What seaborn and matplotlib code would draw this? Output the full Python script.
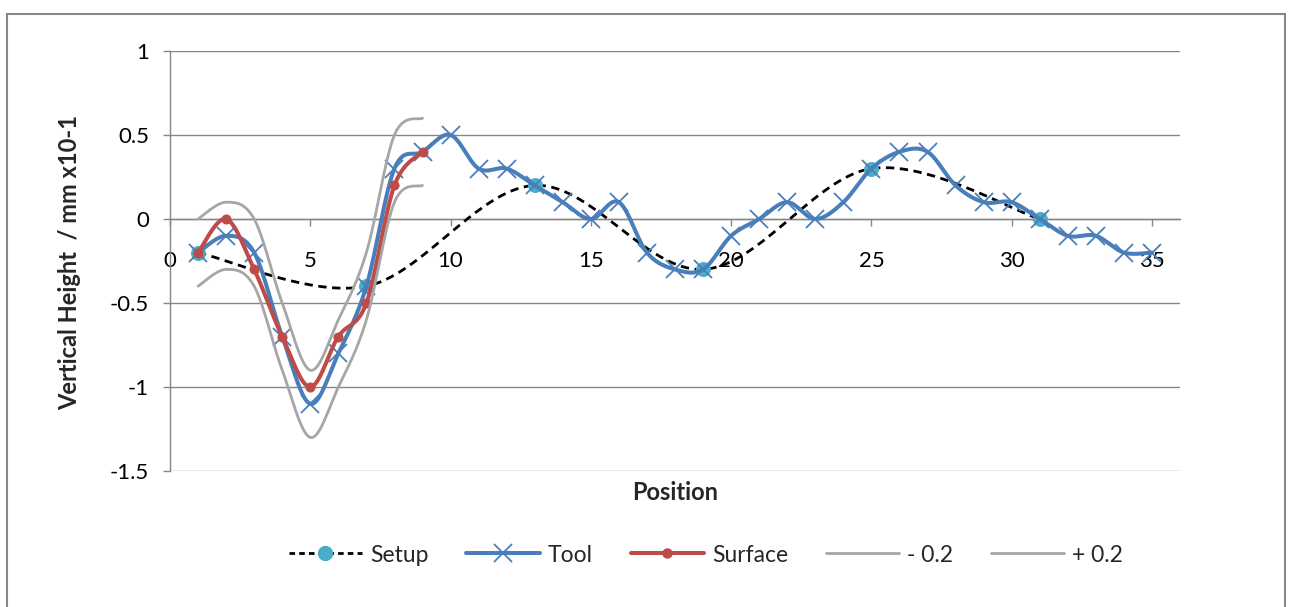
import numpy as np
import pandas as pd
import matplotlib
matplotlib.use("Agg")
import matplotlib.pyplot as plt
import seaborn as sns
from matplotlib.lines import Line2D
from matplotlib.patches import Rectangle

# ---- data ----
setup_x = [1, 7, 13, 19, 25, 31]
setup_y = [-0.2, -0.4, 0.2, -0.3, 0.3, 0.0]

tool_x = list(range(1, 36))
tool_y = [-0.2, -0.1, -0.2, -0.7, -1.1, -0.8, -0.4, 0.3, 0.4, 0.5,
          0.3, 0.3, 0.2, 0.1, 0.0, 0.1, -0.2, -0.3, -0.3, -0.1,
          0.0, 0.1, 0.0, 0.1, 0.3, 0.4, 0.4, 0.2, 0.1, 0.1,
          0.0, -0.1, -0.1, -0.2, -0.2]

surface_x = list(range(1, 10))
surface_y = [-0.2, 0.0, -0.3, -0.7, -1.0, -0.7, -0.5, 0.2, 0.4]

band_x = list(range(1, 10))
minus_y = [-0.4, -0.3, -0.4, -0.9, -1.3, -1.0, -0.6, 0.1, 0.2]
plus_y = [0.0, 0.1, 0.0, -0.5, -0.9, -0.6, -0.2, 0.5, 0.6]

x_ticks = [0, 5, 10, 15, 20, 25, 30, 35]
y_ticks = [-1.5, -1, -0.5, 0, 0.5, 1]
y_tick_labels = ["-1.5", "-1", "-0.5", "0", "0.5", "1"]

BLUE = "#4A7EBB"
RED = "#BE4B48"
CYAN = "#4BACC6"
GRAY = "#A6A6A6"
AXIS = "#868686"


def smooth(xs, ys, n=40):
    """Excel-style smoothed line (Catmull-Rom Bezier)."""
    P = np.column_stack([np.asarray(xs, float), np.asarray(ys, float)])
    E = np.vstack([P[0], P, P[-1]])
    segs = []
    for i in range(len(P) - 1):
        p0, p1, p2, p3 = E[i], E[i + 1], E[i + 2], E[i + 3]
        b1 = p1 + (p2 - p0) / 6.0
        b2 = p2 - (p3 - p1) / 6.0
        t = np.linspace(0, 1, n, endpoint=(i == len(P) - 2))[:, None]
        segs.append((1 - t) ** 3 * p1 + 3 * (1 - t) ** 2 * t * b1
                    + 3 * (1 - t) * t ** 2 * b2 + t ** 3 * p2)
    S = np.vstack(segs)
    return pd.DataFrame({"x": S[:, 0], "y": S[:, 1]})


sns.set_theme(style="white")
plt.rcParams["font.family"] = ["Lato", "DejaVu Sans"]

fig = plt.figure(figsize=(12.92, 6.07), dpi=100)
ax = fig.add_axes([170 / 1292, 1 - 471 / 607, (1180 - 170) / 1292, (471 - 51) / 607])

# Setup
s = smooth(setup_x, setup_y)
sns.lineplot(data=s, x="x", y="y", sort=False, estimator=None, ax=ax,
             color="black", linestyle=(0, (3, 2)), linewidth=2.0, zorder=3)
sns.lineplot(x=setup_x, y=setup_y, ax=ax, linestyle="none", marker="o",
             markersize=10, markerfacecolor=CYAN, markeredgecolor=CYAN,
             color=CYAN, zorder=3.1)

# Tool
s = smooth(tool_x, tool_y)
sns.lineplot(data=s, x="x", y="y", sort=False, estimator=None, ax=ax,
             color=BLUE, linewidth=2.9, zorder=4)
sns.lineplot(x=tool_x, y=tool_y, ax=ax, linestyle="none", marker="x",
             markersize=13, markeredgewidth=1.3, markeredgecolor=BLUE,
             markerfacecolor=BLUE, color=BLUE, zorder=4.1)

# Surface
s = smooth(surface_x, surface_y)
sns.lineplot(data=s, x="x", y="y", sort=False, estimator=None, ax=ax,
             color=RED, linewidth=2.9, zorder=5)
sns.lineplot(x=surface_x, y=surface_y, ax=ax, linestyle="none", marker="o",
             markersize=6.5, markerfacecolor=RED, markeredgecolor=RED,
             color=RED, zorder=5.1)

# Bands
for yy in (minus_y, plus_y):
    s = smooth(band_x, yy)
    sns.lineplot(data=s, x="x", y="y", sort=False, estimator=None, ax=ax,
                 color=GRAY, linewidth=2.0, zorder=6)

ax.set_xlim(0, 36)
ax.set_ylim(-1.5, 1)
ax.set_xticks(x_ticks)
ax.set_xticklabels([str(t) for t in x_ticks])
ax.set_yticks(y_ticks)
ax.set_yticklabels(y_tick_labels)

ax.yaxis.grid(True, color=AXIS, linewidth=1.0)
ax.xaxis.grid(False)
ax.set_axisbelow(True)
for side in ("top", "right"):
    ax.spines[side].set_visible(False)
ax.spines["left"].set_color(AXIS)
ax.spines["left"].set_linewidth(1.0)
ax.spines["bottom"].set_position(("data", 0))
ax.spines["bottom"].set_color(AXIS)
ax.spines["bottom"].set_linewidth(1.0)

ax.tick_params(axis="x", direction="out", length=5, width=1, color=AXIS,
               pad=18, labelsize=16, labelcolor="black", bottom=True)
ax.tick_params(axis="y", direction="out", length=5, width=1, color=AXIS,
               pad=10, labelsize=16, labelcolor="black", left=True)

ax.set_xlabel("")
ax.set_ylabel("")
fig.text(675 / 1292, 1 - 492 / 607, "Position", ha="center", va="center",
         fontsize=17, fontweight="bold")
fig.text(70 / 1292, 1 - 263 / 607, "Vertical Height  / mm x10-1", ha="center",
         va="center", rotation=90, fontsize=17, fontweight="bold")

handles = [
    Line2D([], [], color="black", linestyle=(0, (2, 1.5)), linewidth=2.0,
           marker="o", markersize=10, markerfacecolor=CYAN, markeredgecolor=CYAN),
    Line2D([], [], color=BLUE, linewidth=2.9, marker="x", markersize=13,
           markeredgewidth=1.3, markeredgecolor=BLUE),
    Line2D([], [], color=RED, linewidth=2.9, marker="o", markersize=6.5,
           markerfacecolor=RED, markeredgecolor=RED),
    Line2D([], [], color=GRAY, linewidth=2.0),
    Line2D([], [], color=GRAY, linewidth=2.0),
]
labels = ["Setup", "Tool", "Surface", "- 0.2", "+ 0.2"]
fig.legend(handles, labels, loc="center", bbox_to_anchor=(706 / 1292, 1 - 555 / 607),
           ncol=5, frameon=False, fontsize=16.5, handlelength=3.2,
           handletextpad=0.35, columnspacing=1.65)

fig.add_artist(Rectangle((7 / 1292, -0.02), (1285 - 7) / 1292, (600 - 7) / 607 + 0.02,
                         transform=fig.transFigure, fill=False,
                         edgecolor="#888888", linewidth=1.5))

fig.savefig("out.png", dpi=100)
